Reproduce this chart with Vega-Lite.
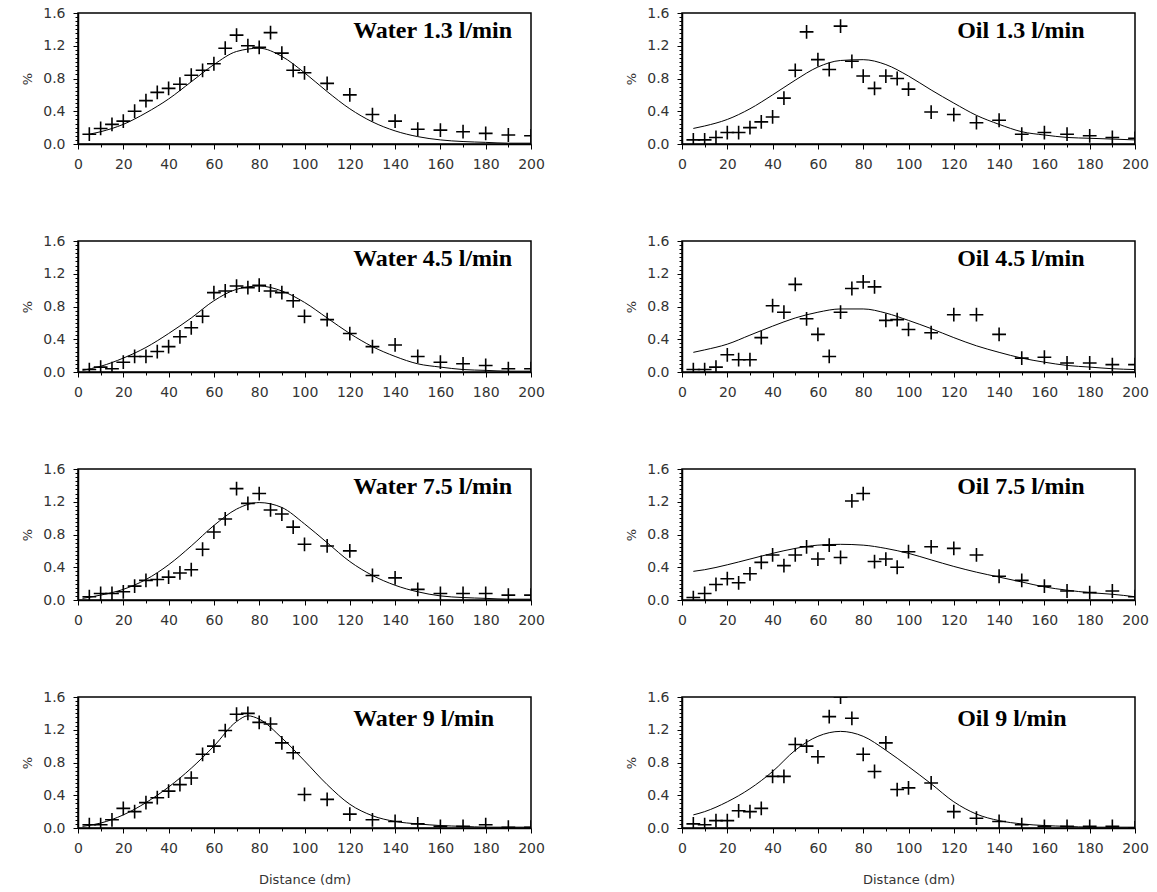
{
  "$schema": "https://vega.github.io/schema/vega-lite/v6.json",
  "padding": {"left": 20, "top": 5, "right": 5, "bottom": 5},
  "background": "white",
  "datasets": {
    "titles": [
      {"p": "W13", "t": "Water 1.3 l/min"}, {"p": "O13", "t": "Oil 1.3 l/min"},
      {"p": "W45", "t": "Water 4.5 l/min"}, {"p": "O45", "t": "Oil 4.5 l/min"},
      {"p": "W75", "t": "Water 7.5 l/min"}, {"p": "O75", "t": "Oil 7.5 l/min"},
      {"p": "W9", "t": "Water 9 l/min"}, {"p": "O9", "t": "Oil 9 l/min"}
    ],
    "fit": [
      {"p":"W13","x":5,"y":0.12},{"p":"W13","x":10,"y":0.15},{"p":"W13","x":20,"y":0.24},{"p":"W13","x":30,"y":0.38},{"p":"W13","x":40,"y":0.55},{"p":"W13","x":50,"y":0.76},{"p":"W13","x":60,"y":0.97},{"p":"W13","x":70,"y":1.13},{"p":"W13","x":80,"y":1.17},{"p":"W13","x":90,"y":1.07},{"p":"W13","x":100,"y":0.87},{"p":"W13","x":110,"y":0.64},{"p":"W13","x":120,"y":0.43},{"p":"W13","x":130,"y":0.27},{"p":"W13","x":140,"y":0.16},{"p":"W13","x":150,"y":0.09},{"p":"W13","x":160,"y":0.05},{"p":"W13","x":170,"y":0.03},{"p":"W13","x":180,"y":0.02},{"p":"W13","x":190,"y":0.01},{"p":"W13","x":200,"y":0.01},
      {"p":"W45","x":2,"y":0.02},{"p":"W45","x":10,"y":0.07},{"p":"W45","x":20,"y":0.17},{"p":"W45","x":30,"y":0.3},{"p":"W45","x":40,"y":0.47},{"p":"W45","x":50,"y":0.66},{"p":"W45","x":60,"y":0.87},{"p":"W45","x":70,"y":1.01},{"p":"W45","x":80,"y":1.05},{"p":"W45","x":90,"y":0.99},{"p":"W45","x":100,"y":0.85},{"p":"W45","x":110,"y":0.66},{"p":"W45","x":120,"y":0.47},{"p":"W45","x":130,"y":0.31},{"p":"W45","x":140,"y":0.19},{"p":"W45","x":150,"y":0.1},{"p":"W45","x":160,"y":0.06},{"p":"W45","x":170,"y":0.03},{"p":"W45","x":180,"y":0.02},{"p":"W45","x":190,"y":0.01},{"p":"W45","x":200,"y":0.01},
      {"p":"W75","x":2,"y":0.02},{"p":"W75","x":10,"y":0.06},{"p":"W75","x":20,"y":0.13},{"p":"W75","x":30,"y":0.25},{"p":"W75","x":40,"y":0.43},{"p":"W75","x":50,"y":0.66},{"p":"W75","x":60,"y":0.91},{"p":"W75","x":70,"y":1.11},{"p":"W75","x":80,"y":1.19},{"p":"W75","x":90,"y":1.13},{"p":"W75","x":100,"y":0.93},{"p":"W75","x":110,"y":0.7},{"p":"W75","x":120,"y":0.47},{"p":"W75","x":130,"y":0.3},{"p":"W75","x":140,"y":0.18},{"p":"W75","x":150,"y":0.1},{"p":"W75","x":160,"y":0.05},{"p":"W75","x":170,"y":0.03},{"p":"W75","x":180,"y":0.02},{"p":"W75","x":190,"y":0.01},{"p":"W75","x":200,"y":0.01},
      {"p":"W9","x":2,"y":0.02},{"p":"W9","x":10,"y":0.06},{"p":"W9","x":20,"y":0.16},{"p":"W9","x":30,"y":0.31},{"p":"W9","x":40,"y":0.5},{"p":"W9","x":50,"y":0.73},{"p":"W9","x":60,"y":1.0},{"p":"W9","x":70,"y":1.3},{"p":"W9","x":75,"y":1.37},{"p":"W9","x":80,"y":1.33},{"p":"W9","x":90,"y":1.1},{"p":"W9","x":100,"y":0.82},{"p":"W9","x":110,"y":0.53},{"p":"W9","x":120,"y":0.29},{"p":"W9","x":130,"y":0.15},{"p":"W9","x":140,"y":0.08},{"p":"W9","x":150,"y":0.05},{"p":"W9","x":160,"y":0.03},{"p":"W9","x":170,"y":0.02},{"p":"W9","x":180,"y":0.01},{"p":"W9","x":190,"y":0.01},{"p":"W9","x":200,"y":0.01},
      {"p":"O13","x":5,"y":0.19},{"p":"O13","x":10,"y":0.22},{"p":"O13","x":20,"y":0.3},{"p":"O13","x":30,"y":0.43},{"p":"O13","x":40,"y":0.6},{"p":"O13","x":50,"y":0.78},{"p":"O13","x":60,"y":0.94},{"p":"O13","x":70,"y":1.02},{"p":"O13","x":80,"y":1.03},{"p":"O13","x":90,"y":0.97},{"p":"O13","x":100,"y":0.83},{"p":"O13","x":110,"y":0.66},{"p":"O13","x":120,"y":0.5},{"p":"O13","x":130,"y":0.35},{"p":"O13","x":140,"y":0.24},{"p":"O13","x":150,"y":0.15},{"p":"O13","x":160,"y":0.11},{"p":"O13","x":170,"y":0.08},{"p":"O13","x":180,"y":0.07},{"p":"O13","x":190,"y":0.06},{"p":"O13","x":200,"y":0.05},
      {"p":"O45","x":5,"y":0.24},{"p":"O45","x":10,"y":0.27},{"p":"O45","x":20,"y":0.34},{"p":"O45","x":30,"y":0.45},{"p":"O45","x":40,"y":0.56},{"p":"O45","x":50,"y":0.66},{"p":"O45","x":60,"y":0.73},{"p":"O45","x":70,"y":0.77},{"p":"O45","x":80,"y":0.77},{"p":"O45","x":90,"y":0.72},{"p":"O45","x":100,"y":0.63},{"p":"O45","x":110,"y":0.53},{"p":"O45","x":120,"y":0.42},{"p":"O45","x":130,"y":0.32},{"p":"O45","x":140,"y":0.24},{"p":"O45","x":150,"y":0.17},{"p":"O45","x":160,"y":0.12},{"p":"O45","x":170,"y":0.08},{"p":"O45","x":180,"y":0.06},{"p":"O45","x":190,"y":0.04},{"p":"O45","x":200,"y":0.03},
      {"p":"O75","x":5,"y":0.35},{"p":"O75","x":10,"y":0.37},{"p":"O75","x":20,"y":0.43},{"p":"O75","x":30,"y":0.5},{"p":"O75","x":40,"y":0.57},{"p":"O75","x":50,"y":0.63},{"p":"O75","x":60,"y":0.67},{"p":"O75","x":70,"y":0.68},{"p":"O75","x":80,"y":0.67},{"p":"O75","x":90,"y":0.63},{"p":"O75","x":100,"y":0.57},{"p":"O75","x":110,"y":0.49},{"p":"O75","x":120,"y":0.41},{"p":"O75","x":130,"y":0.34},{"p":"O75","x":140,"y":0.28},{"p":"O75","x":150,"y":0.22},{"p":"O75","x":160,"y":0.16},{"p":"O75","x":170,"y":0.12},{"p":"O75","x":180,"y":0.09},{"p":"O75","x":190,"y":0.07},{"p":"O75","x":200,"y":0.04},
      {"p":"O9","x":5,"y":0.16},{"p":"O9","x":10,"y":0.2},{"p":"O9","x":20,"y":0.32},{"p":"O9","x":30,"y":0.48},{"p":"O9","x":40,"y":0.69},{"p":"O9","x":50,"y":0.95},{"p":"O9","x":60,"y":1.12},{"p":"O9","x":70,"y":1.18},{"p":"O9","x":80,"y":1.12},{"p":"O9","x":90,"y":0.95},{"p":"O9","x":100,"y":0.75},{"p":"O9","x":110,"y":0.54},{"p":"O9","x":120,"y":0.32},{"p":"O9","x":130,"y":0.17},{"p":"O9","x":140,"y":0.09},{"p":"O9","x":150,"y":0.05},{"p":"O9","x":160,"y":0.03},{"p":"O9","x":170,"y":0.02},{"p":"O9","x":180,"y":0.01},{"p":"O9","x":190,"y":0.01},{"p":"O9","x":200,"y":0.01}
    ],
    "pts": [
      {"p":"W13","x":5,"y":0.12},{"p":"W13","x":10,"y":0.19},{"p":"W13","x":15,"y":0.24},{"p":"W13","x":20,"y":0.28},{"p":"W13","x":25,"y":0.4},{"p":"W13","x":30,"y":0.53},{"p":"W13","x":35,"y":0.63},{"p":"W13","x":40,"y":0.68},{"p":"W13","x":45,"y":0.73},{"p":"W13","x":50,"y":0.84},{"p":"W13","x":55,"y":0.9},{"p":"W13","x":60,"y":0.98},{"p":"W13","x":65,"y":1.17},{"p":"W13","x":70,"y":1.33},{"p":"W13","x":75,"y":1.2},{"p":"W13","x":80,"y":1.18},{"p":"W13","x":85,"y":1.36},{"p":"W13","x":90,"y":1.11},{"p":"W13","x":95,"y":0.9},{"p":"W13","x":100,"y":0.87},{"p":"W13","x":110,"y":0.74},{"p":"W13","x":120,"y":0.6},{"p":"W13","x":130,"y":0.36},{"p":"W13","x":140,"y":0.28},{"p":"W13","x":150,"y":0.18},{"p":"W13","x":160,"y":0.17},{"p":"W13","x":170,"y":0.15},{"p":"W13","x":180,"y":0.13},{"p":"W13","x":190,"y":0.11},{"p":"W13","x":200,"y":0.1},
      {"p":"O13","x":5,"y":0.05},{"p":"O13","x":10,"y":0.05},{"p":"O13","x":15,"y":0.08},{"p":"O13","x":20,"y":0.14},{"p":"O13","x":25,"y":0.14},{"p":"O13","x":30,"y":0.2},{"p":"O13","x":35,"y":0.27},{"p":"O13","x":40,"y":0.33},{"p":"O13","x":45,"y":0.56},{"p":"O13","x":50,"y":0.9},{"p":"O13","x":55,"y":1.37},{"p":"O13","x":60,"y":1.03},{"p":"O13","x":65,"y":0.91},{"p":"O13","x":70,"y":1.44},{"p":"O13","x":75,"y":1.01},{"p":"O13","x":80,"y":0.83},{"p":"O13","x":85,"y":0.68},{"p":"O13","x":90,"y":0.83},{"p":"O13","x":95,"y":0.8},{"p":"O13","x":100,"y":0.67},{"p":"O13","x":110,"y":0.39},{"p":"O13","x":120,"y":0.36},{"p":"O13","x":130,"y":0.26},{"p":"O13","x":140,"y":0.29},{"p":"O13","x":150,"y":0.12},{"p":"O13","x":160,"y":0.14},{"p":"O13","x":170,"y":0.12},{"p":"O13","x":180,"y":0.1},{"p":"O13","x":190,"y":0.08},{"p":"O13","x":200,"y":0.07},
      {"p":"W45","x":5,"y":0.03},{"p":"W45","x":10,"y":0.06},{"p":"W45","x":15,"y":0.04},{"p":"W45","x":20,"y":0.12},{"p":"W45","x":25,"y":0.19},{"p":"W45","x":30,"y":0.19},{"p":"W45","x":35,"y":0.25},{"p":"W45","x":40,"y":0.31},{"p":"W45","x":45,"y":0.43},{"p":"W45","x":50,"y":0.54},{"p":"W45","x":55,"y":0.68},{"p":"W45","x":60,"y":0.97},{"p":"W45","x":65,"y":0.99},{"p":"W45","x":70,"y":1.05},{"p":"W45","x":75,"y":1.03},{"p":"W45","x":80,"y":1.06},{"p":"W45","x":85,"y":0.99},{"p":"W45","x":90,"y":0.97},{"p":"W45","x":95,"y":0.87},{"p":"W45","x":100,"y":0.68},{"p":"W45","x":110,"y":0.64},{"p":"W45","x":120,"y":0.47},{"p":"W45","x":130,"y":0.31},{"p":"W45","x":140,"y":0.33},{"p":"W45","x":150,"y":0.19},{"p":"W45","x":160,"y":0.12},{"p":"W45","x":170,"y":0.1},{"p":"W45","x":180,"y":0.08},{"p":"W45","x":190,"y":0.04},{"p":"W45","x":200,"y":0.04},
      {"p":"O45","x":5,"y":0.03},{"p":"O45","x":10,"y":0.03},{"p":"O45","x":15,"y":0.06},{"p":"O45","x":20,"y":0.21},{"p":"O45","x":25,"y":0.15},{"p":"O45","x":30,"y":0.15},{"p":"O45","x":35,"y":0.42},{"p":"O45","x":40,"y":0.81},{"p":"O45","x":45,"y":0.73},{"p":"O45","x":50,"y":1.07},{"p":"O45","x":55,"y":0.65},{"p":"O45","x":60,"y":0.46},{"p":"O45","x":65,"y":0.19},{"p":"O45","x":70,"y":0.73},{"p":"O45","x":75,"y":1.02},{"p":"O45","x":80,"y":1.1},{"p":"O45","x":85,"y":1.04},{"p":"O45","x":90,"y":0.63},{"p":"O45","x":95,"y":0.64},{"p":"O45","x":100,"y":0.52},{"p":"O45","x":110,"y":0.48},{"p":"O45","x":120,"y":0.7},{"p":"O45","x":130,"y":0.7},{"p":"O45","x":140,"y":0.46},{"p":"O45","x":150,"y":0.17},{"p":"O45","x":160,"y":0.18},{"p":"O45","x":170,"y":0.11},{"p":"O45","x":180,"y":0.11},{"p":"O45","x":190,"y":0.09},{"p":"O45","x":200,"y":0.09},
      {"p":"W75","x":5,"y":0.04},{"p":"W75","x":10,"y":0.08},{"p":"W75","x":15,"y":0.08},{"p":"W75","x":20,"y":0.1},{"p":"W75","x":25,"y":0.17},{"p":"W75","x":30,"y":0.24},{"p":"W75","x":35,"y":0.25},{"p":"W75","x":40,"y":0.28},{"p":"W75","x":45,"y":0.33},{"p":"W75","x":50,"y":0.37},{"p":"W75","x":55,"y":0.62},{"p":"W75","x":60,"y":0.83},{"p":"W75","x":65,"y":0.99},{"p":"W75","x":70,"y":1.36},{"p":"W75","x":75,"y":1.18},{"p":"W75","x":80,"y":1.3},{"p":"W75","x":85,"y":1.1},{"p":"W75","x":90,"y":1.05},{"p":"W75","x":95,"y":0.89},{"p":"W75","x":100,"y":0.68},{"p":"W75","x":110,"y":0.66},{"p":"W75","x":120,"y":0.6},{"p":"W75","x":130,"y":0.3},{"p":"W75","x":140,"y":0.27},{"p":"W75","x":150,"y":0.13},{"p":"W75","x":160,"y":0.08},{"p":"W75","x":170,"y":0.08},{"p":"W75","x":180,"y":0.08},{"p":"W75","x":190,"y":0.06},{"p":"W75","x":200,"y":0.06},
      {"p":"O75","x":5,"y":0.03},{"p":"O75","x":10,"y":0.08},{"p":"O75","x":15,"y":0.19},{"p":"O75","x":20,"y":0.26},{"p":"O75","x":25,"y":0.21},{"p":"O75","x":30,"y":0.32},{"p":"O75","x":35,"y":0.46},{"p":"O75","x":40,"y":0.55},{"p":"O75","x":45,"y":0.42},{"p":"O75","x":50,"y":0.55},{"p":"O75","x":55,"y":0.65},{"p":"O75","x":60,"y":0.5},{"p":"O75","x":65,"y":0.67},{"p":"O75","x":70,"y":0.52},{"p":"O75","x":75,"y":1.21},{"p":"O75","x":80,"y":1.3},{"p":"O75","x":85,"y":0.47},{"p":"O75","x":90,"y":0.5},{"p":"O75","x":95,"y":0.4},{"p":"O75","x":100,"y":0.59},{"p":"O75","x":110,"y":0.65},{"p":"O75","x":120,"y":0.63},{"p":"O75","x":130,"y":0.55},{"p":"O75","x":140,"y":0.29},{"p":"O75","x":150,"y":0.24},{"p":"O75","x":160,"y":0.17},{"p":"O75","x":170,"y":0.11},{"p":"O75","x":180,"y":0.09},{"p":"O75","x":190,"y":0.11},{"p":"O75","x":200,"y":0.04},
      {"p":"W9","x":5,"y":0.04},{"p":"W9","x":10,"y":0.04},{"p":"W9","x":15,"y":0.1},{"p":"W9","x":20,"y":0.24},{"p":"W9","x":25,"y":0.2},{"p":"W9","x":30,"y":0.31},{"p":"W9","x":35,"y":0.37},{"p":"W9","x":40,"y":0.45},{"p":"W9","x":45,"y":0.53},{"p":"W9","x":50,"y":0.61},{"p":"W9","x":55,"y":0.9},{"p":"W9","x":60,"y":1.0},{"p":"W9","x":65,"y":1.19},{"p":"W9","x":70,"y":1.39},{"p":"W9","x":75,"y":1.4},{"p":"W9","x":80,"y":1.29},{"p":"W9","x":85,"y":1.27},{"p":"W9","x":90,"y":1.04},{"p":"W9","x":95,"y":0.92},{"p":"W9","x":100,"y":0.41},{"p":"W9","x":110,"y":0.35},{"p":"W9","x":120,"y":0.17},{"p":"W9","x":130,"y":0.1},{"p":"W9","x":140,"y":0.08},{"p":"W9","x":150,"y":0.05},{"p":"W9","x":160,"y":0.02},{"p":"W9","x":170,"y":0.02},{"p":"W9","x":180,"y":0.04},{"p":"W9","x":190,"y":0.01},{"p":"W9","x":200,"y":0.01},
      {"p":"O9","x":5,"y":0.05},{"p":"O9","x":10,"y":0.04},{"p":"O9","x":15,"y":0.09},{"p":"O9","x":20,"y":0.09},{"p":"O9","x":25,"y":0.21},{"p":"O9","x":30,"y":0.2},{"p":"O9","x":35,"y":0.24},{"p":"O9","x":40,"y":0.63},{"p":"O9","x":45,"y":0.63},{"p":"O9","x":50,"y":1.02},{"p":"O9","x":55,"y":1.0},{"p":"O9","x":60,"y":0.87},{"p":"O9","x":65,"y":1.36},{"p":"O9","x":70,"y":1.6},{"p":"O9","x":75,"y":1.34},{"p":"O9","x":80,"y":0.9},{"p":"O9","x":85,"y":0.69},{"p":"O9","x":90,"y":1.04},{"p":"O9","x":95,"y":0.47},{"p":"O9","x":100,"y":0.49},{"p":"O9","x":110,"y":0.55},{"p":"O9","x":120,"y":0.2},{"p":"O9","x":130,"y":0.12},{"p":"O9","x":140,"y":0.08},{"p":"O9","x":150,"y":0.04},{"p":"O9","x":160,"y":0.02},{"p":"O9","x":170,"y":0.02},{"p":"O9","x":180,"y":0.02},{"p":"O9","x":190,"y":0.02},{"p":"O9","x":200,"y":0.0}
    ]
  },
  "columns": 2,
  "bounds": "flush",
  "spacing": {"row": 97, "column": 151},
  "concat": [
    {"width": 453, "height": 131, "layer": [
      {"data": {"name": "fit"}, "transform": [{"filter": "datum.p === 'W13'"}], "mark": {"type": "line", "color": "black", "strokeWidth": 1, "interpolate": "monotone", "clip": true},
       "encoding": {"x": {"field": "x", "type": "quantitative", "scale": {"domain": [0, 200], "nice": false, "zero": false}, "axis": {"title": null, "tickCount": 20, "labelExpr": "datum.value % 20 === 0 ? datum.label : ''", "tickSize": {"condition": {"test": "datum.value % 20 === 0", "value": 5}, "value": 3}}},
                    "y": {"field": "y", "type": "quantitative", "scale": {"domain": [0, 1.6], "nice": false}, "axis": {"title": "%", "tickCount": 32, "format": ".1f", "labelExpr": "abs(datum.value/0.4 - round(datum.value/0.4)) < 0.01 ? datum.label : ''", "tickSize": {"condition": {"test": "abs(datum.value/0.4 - round(datum.value/0.4)) < 0.01", "value": 5}, "value": 3}}}}},
      {"data": {"name": "pts"}, "transform": [{"filter": "datum.p === 'W13'"}], "mark": {"type": "point", "shape": "M-1,0H1M0,-1V1", "size": 190, "stroke": "black", "strokeWidth": 1.6, "filled": false, "opacity": 1, "clip": true},
       "encoding": {"x": {"field": "x", "type": "quantitative", "scale": {"domain": [0, 200], "nice": false, "zero": false}, "axis": {"title": null, "tickCount": 20, "labelExpr": "datum.value % 20 === 0 ? datum.label : ''", "tickSize": {"condition": {"test": "datum.value % 20 === 0", "value": 5}, "value": 3}}},
                    "y": {"field": "y", "type": "quantitative", "scale": {"domain": [0, 1.6], "nice": false}, "axis": {"title": "%", "tickCount": 32, "format": ".1f", "labelExpr": "abs(datum.value/0.4 - round(datum.value/0.4)) < 0.01 ? datum.label : ''", "tickSize": {"condition": {"test": "abs(datum.value/0.4 - round(datum.value/0.4)) < 0.01", "value": 5}, "value": 3}}}}},
      {"data": {"name": "titles"}, "transform": [{"filter": "datum.p === 'W13'"}], "mark": {"type": "text", "font": "Liberation Serif", "fontWeight": "bold", "fontSize": 24, "align": "left", "baseline": "alphabetic", "color": "black"},
       "encoding": {"x": {"datum": 121.5, "type": "quantitative"}, "y": {"datum": 1.3, "type": "quantitative"}, "text": {"field": "t"}}}
    ]},
    {"width": 453, "height": 131, "layer": [
      {"data": {"name": "fit"}, "transform": [{"filter": "datum.p === 'O13'"}], "mark": {"type": "line", "color": "black", "strokeWidth": 1, "interpolate": "monotone", "clip": true},
       "encoding": {"x": {"field": "x", "type": "quantitative", "scale": {"domain": [0, 200], "nice": false, "zero": false}, "axis": {"title": null, "tickCount": 20, "labelExpr": "datum.value % 20 === 0 ? datum.label : ''", "tickSize": {"condition": {"test": "datum.value % 20 === 0", "value": 5}, "value": 3}}},
                    "y": {"field": "y", "type": "quantitative", "scale": {"domain": [0, 1.6], "nice": false}, "axis": {"title": "%", "tickCount": 32, "format": ".1f", "labelExpr": "abs(datum.value/0.4 - round(datum.value/0.4)) < 0.01 ? datum.label : ''", "tickSize": {"condition": {"test": "abs(datum.value/0.4 - round(datum.value/0.4)) < 0.01", "value": 5}, "value": 3}}}}},
      {"data": {"name": "pts"}, "transform": [{"filter": "datum.p === 'O13'"}], "mark": {"type": "point", "shape": "M-1,0H1M0,-1V1", "size": 190, "stroke": "black", "strokeWidth": 1.6, "filled": false, "opacity": 1, "clip": true},
       "encoding": {"x": {"field": "x", "type": "quantitative", "scale": {"domain": [0, 200], "nice": false, "zero": false}, "axis": {"title": null, "tickCount": 20, "labelExpr": "datum.value % 20 === 0 ? datum.label : ''", "tickSize": {"condition": {"test": "datum.value % 20 === 0", "value": 5}, "value": 3}}},
                    "y": {"field": "y", "type": "quantitative", "scale": {"domain": [0, 1.6], "nice": false}, "axis": {"title": "%", "tickCount": 32, "format": ".1f", "labelExpr": "abs(datum.value/0.4 - round(datum.value/0.4)) < 0.01 ? datum.label : ''", "tickSize": {"condition": {"test": "abs(datum.value/0.4 - round(datum.value/0.4)) < 0.01", "value": 5}, "value": 3}}}}},
      {"data": {"name": "titles"}, "transform": [{"filter": "datum.p === 'O13'"}], "mark": {"type": "text", "font": "Liberation Serif", "fontWeight": "bold", "fontSize": 24, "align": "left", "baseline": "alphabetic", "color": "black"},
       "encoding": {"x": {"datum": 121.5, "type": "quantitative"}, "y": {"datum": 1.3, "type": "quantitative"}, "text": {"field": "t"}}}
    ]},
    {"width": 453, "height": 131, "layer": [
      {"data": {"name": "fit"}, "transform": [{"filter": "datum.p === 'W45'"}], "mark": {"type": "line", "color": "black", "strokeWidth": 1, "interpolate": "monotone", "clip": true},
       "encoding": {"x": {"field": "x", "type": "quantitative", "scale": {"domain": [0, 200], "nice": false, "zero": false}, "axis": {"title": null, "tickCount": 20, "labelExpr": "datum.value % 20 === 0 ? datum.label : ''", "tickSize": {"condition": {"test": "datum.value % 20 === 0", "value": 5}, "value": 3}}},
                    "y": {"field": "y", "type": "quantitative", "scale": {"domain": [0, 1.6], "nice": false}, "axis": {"title": "%", "tickCount": 32, "format": ".1f", "labelExpr": "abs(datum.value/0.4 - round(datum.value/0.4)) < 0.01 ? datum.label : ''", "tickSize": {"condition": {"test": "abs(datum.value/0.4 - round(datum.value/0.4)) < 0.01", "value": 5}, "value": 3}}}}},
      {"data": {"name": "pts"}, "transform": [{"filter": "datum.p === 'W45'"}], "mark": {"type": "point", "shape": "M-1,0H1M0,-1V1", "size": 190, "stroke": "black", "strokeWidth": 1.6, "filled": false, "opacity": 1, "clip": true},
       "encoding": {"x": {"field": "x", "type": "quantitative", "scale": {"domain": [0, 200], "nice": false, "zero": false}, "axis": {"title": null, "tickCount": 20, "labelExpr": "datum.value % 20 === 0 ? datum.label : ''", "tickSize": {"condition": {"test": "datum.value % 20 === 0", "value": 5}, "value": 3}}},
                    "y": {"field": "y", "type": "quantitative", "scale": {"domain": [0, 1.6], "nice": false}, "axis": {"title": "%", "tickCount": 32, "format": ".1f", "labelExpr": "abs(datum.value/0.4 - round(datum.value/0.4)) < 0.01 ? datum.label : ''", "tickSize": {"condition": {"test": "abs(datum.value/0.4 - round(datum.value/0.4)) < 0.01", "value": 5}, "value": 3}}}}},
      {"data": {"name": "titles"}, "transform": [{"filter": "datum.p === 'W45'"}], "mark": {"type": "text", "font": "Liberation Serif", "fontWeight": "bold", "fontSize": 24, "align": "left", "baseline": "alphabetic", "color": "black"},
       "encoding": {"x": {"datum": 121.5, "type": "quantitative"}, "y": {"datum": 1.3, "type": "quantitative"}, "text": {"field": "t"}}}
    ]},
    {"width": 453, "height": 131, "layer": [
      {"data": {"name": "fit"}, "transform": [{"filter": "datum.p === 'O45'"}], "mark": {"type": "line", "color": "black", "strokeWidth": 1, "interpolate": "monotone", "clip": true},
       "encoding": {"x": {"field": "x", "type": "quantitative", "scale": {"domain": [0, 200], "nice": false, "zero": false}, "axis": {"title": null, "tickCount": 20, "labelExpr": "datum.value % 20 === 0 ? datum.label : ''", "tickSize": {"condition": {"test": "datum.value % 20 === 0", "value": 5}, "value": 3}}},
                    "y": {"field": "y", "type": "quantitative", "scale": {"domain": [0, 1.6], "nice": false}, "axis": {"title": "%", "tickCount": 32, "format": ".1f", "labelExpr": "abs(datum.value/0.4 - round(datum.value/0.4)) < 0.01 ? datum.label : ''", "tickSize": {"condition": {"test": "abs(datum.value/0.4 - round(datum.value/0.4)) < 0.01", "value": 5}, "value": 3}}}}},
      {"data": {"name": "pts"}, "transform": [{"filter": "datum.p === 'O45'"}], "mark": {"type": "point", "shape": "M-1,0H1M0,-1V1", "size": 190, "stroke": "black", "strokeWidth": 1.6, "filled": false, "opacity": 1, "clip": true},
       "encoding": {"x": {"field": "x", "type": "quantitative", "scale": {"domain": [0, 200], "nice": false, "zero": false}, "axis": {"title": null, "tickCount": 20, "labelExpr": "datum.value % 20 === 0 ? datum.label : ''", "tickSize": {"condition": {"test": "datum.value % 20 === 0", "value": 5}, "value": 3}}},
                    "y": {"field": "y", "type": "quantitative", "scale": {"domain": [0, 1.6], "nice": false}, "axis": {"title": "%", "tickCount": 32, "format": ".1f", "labelExpr": "abs(datum.value/0.4 - round(datum.value/0.4)) < 0.01 ? datum.label : ''", "tickSize": {"condition": {"test": "abs(datum.value/0.4 - round(datum.value/0.4)) < 0.01", "value": 5}, "value": 3}}}}},
      {"data": {"name": "titles"}, "transform": [{"filter": "datum.p === 'O45'"}], "mark": {"type": "text", "font": "Liberation Serif", "fontWeight": "bold", "fontSize": 24, "align": "left", "baseline": "alphabetic", "color": "black"},
       "encoding": {"x": {"datum": 121.5, "type": "quantitative"}, "y": {"datum": 1.3, "type": "quantitative"}, "text": {"field": "t"}}}
    ]},
    {"width": 453, "height": 131, "layer": [
      {"data": {"name": "fit"}, "transform": [{"filter": "datum.p === 'W75'"}], "mark": {"type": "line", "color": "black", "strokeWidth": 1, "interpolate": "monotone", "clip": true},
       "encoding": {"x": {"field": "x", "type": "quantitative", "scale": {"domain": [0, 200], "nice": false, "zero": false}, "axis": {"title": null, "tickCount": 20, "labelExpr": "datum.value % 20 === 0 ? datum.label : ''", "tickSize": {"condition": {"test": "datum.value % 20 === 0", "value": 5}, "value": 3}}},
                    "y": {"field": "y", "type": "quantitative", "scale": {"domain": [0, 1.6], "nice": false}, "axis": {"title": "%", "tickCount": 32, "format": ".1f", "labelExpr": "abs(datum.value/0.4 - round(datum.value/0.4)) < 0.01 ? datum.label : ''", "tickSize": {"condition": {"test": "abs(datum.value/0.4 - round(datum.value/0.4)) < 0.01", "value": 5}, "value": 3}}}}},
      {"data": {"name": "pts"}, "transform": [{"filter": "datum.p === 'W75'"}], "mark": {"type": "point", "shape": "M-1,0H1M0,-1V1", "size": 190, "stroke": "black", "strokeWidth": 1.6, "filled": false, "opacity": 1, "clip": true},
       "encoding": {"x": {"field": "x", "type": "quantitative", "scale": {"domain": [0, 200], "nice": false, "zero": false}, "axis": {"title": null, "tickCount": 20, "labelExpr": "datum.value % 20 === 0 ? datum.label : ''", "tickSize": {"condition": {"test": "datum.value % 20 === 0", "value": 5}, "value": 3}}},
                    "y": {"field": "y", "type": "quantitative", "scale": {"domain": [0, 1.6], "nice": false}, "axis": {"title": "%", "tickCount": 32, "format": ".1f", "labelExpr": "abs(datum.value/0.4 - round(datum.value/0.4)) < 0.01 ? datum.label : ''", "tickSize": {"condition": {"test": "abs(datum.value/0.4 - round(datum.value/0.4)) < 0.01", "value": 5}, "value": 3}}}}},
      {"data": {"name": "titles"}, "transform": [{"filter": "datum.p === 'W75'"}], "mark": {"type": "text", "font": "Liberation Serif", "fontWeight": "bold", "fontSize": 24, "align": "left", "baseline": "alphabetic", "color": "black"},
       "encoding": {"x": {"datum": 121.5, "type": "quantitative"}, "y": {"datum": 1.3, "type": "quantitative"}, "text": {"field": "t"}}}
    ]},
    {"width": 453, "height": 131, "layer": [
      {"data": {"name": "fit"}, "transform": [{"filter": "datum.p === 'O75'"}], "mark": {"type": "line", "color": "black", "strokeWidth": 1, "interpolate": "monotone", "clip": true},
       "encoding": {"x": {"field": "x", "type": "quantitative", "scale": {"domain": [0, 200], "nice": false, "zero": false}, "axis": {"title": null, "tickCount": 20, "labelExpr": "datum.value % 20 === 0 ? datum.label : ''", "tickSize": {"condition": {"test": "datum.value % 20 === 0", "value": 5}, "value": 3}}},
                    "y": {"field": "y", "type": "quantitative", "scale": {"domain": [0, 1.6], "nice": false}, "axis": {"title": "%", "tickCount": 32, "format": ".1f", "labelExpr": "abs(datum.value/0.4 - round(datum.value/0.4)) < 0.01 ? datum.label : ''", "tickSize": {"condition": {"test": "abs(datum.value/0.4 - round(datum.value/0.4)) < 0.01", "value": 5}, "value": 3}}}}},
      {"data": {"name": "pts"}, "transform": [{"filter": "datum.p === 'O75'"}], "mark": {"type": "point", "shape": "M-1,0H1M0,-1V1", "size": 190, "stroke": "black", "strokeWidth": 1.6, "filled": false, "opacity": 1, "clip": true},
       "encoding": {"x": {"field": "x", "type": "quantitative", "scale": {"domain": [0, 200], "nice": false, "zero": false}, "axis": {"title": null, "tickCount": 20, "labelExpr": "datum.value % 20 === 0 ? datum.label : ''", "tickSize": {"condition": {"test": "datum.value % 20 === 0", "value": 5}, "value": 3}}},
                    "y": {"field": "y", "type": "quantitative", "scale": {"domain": [0, 1.6], "nice": false}, "axis": {"title": "%", "tickCount": 32, "format": ".1f", "labelExpr": "abs(datum.value/0.4 - round(datum.value/0.4)) < 0.01 ? datum.label : ''", "tickSize": {"condition": {"test": "abs(datum.value/0.4 - round(datum.value/0.4)) < 0.01", "value": 5}, "value": 3}}}}},
      {"data": {"name": "titles"}, "transform": [{"filter": "datum.p === 'O75'"}], "mark": {"type": "text", "font": "Liberation Serif", "fontWeight": "bold", "fontSize": 24, "align": "left", "baseline": "alphabetic", "color": "black"},
       "encoding": {"x": {"datum": 121.5, "type": "quantitative"}, "y": {"datum": 1.3, "type": "quantitative"}, "text": {"field": "t"}}}
    ]},
    {"width": 453, "height": 131, "layer": [
      {"data": {"name": "fit"}, "transform": [{"filter": "datum.p === 'W9'"}], "mark": {"type": "line", "color": "black", "strokeWidth": 1, "interpolate": "monotone", "clip": true},
       "encoding": {"x": {"field": "x", "type": "quantitative", "scale": {"domain": [0, 200], "nice": false, "zero": false}, "axis": {"title": "Distance (dm)", "tickCount": 20, "labelExpr": "datum.value % 20 === 0 ? datum.label : ''", "tickSize": {"condition": {"test": "datum.value % 20 === 0", "value": 5}, "value": 3}}},
                    "y": {"field": "y", "type": "quantitative", "scale": {"domain": [0, 1.6], "nice": false}, "axis": {"title": "%", "tickCount": 32, "format": ".1f", "labelExpr": "abs(datum.value/0.4 - round(datum.value/0.4)) < 0.01 ? datum.label : ''", "tickSize": {"condition": {"test": "abs(datum.value/0.4 - round(datum.value/0.4)) < 0.01", "value": 5}, "value": 3}}}}},
      {"data": {"name": "pts"}, "transform": [{"filter": "datum.p === 'W9'"}], "mark": {"type": "point", "shape": "M-1,0H1M0,-1V1", "size": 190, "stroke": "black", "strokeWidth": 1.6, "filled": false, "opacity": 1, "clip": true},
       "encoding": {"x": {"field": "x", "type": "quantitative", "scale": {"domain": [0, 200], "nice": false, "zero": false}, "axis": {"title": "Distance (dm)", "tickCount": 20, "labelExpr": "datum.value % 20 === 0 ? datum.label : ''", "tickSize": {"condition": {"test": "datum.value % 20 === 0", "value": 5}, "value": 3}}},
                    "y": {"field": "y", "type": "quantitative", "scale": {"domain": [0, 1.6], "nice": false}, "axis": {"title": "%", "tickCount": 32, "format": ".1f", "labelExpr": "abs(datum.value/0.4 - round(datum.value/0.4)) < 0.01 ? datum.label : ''", "tickSize": {"condition": {"test": "abs(datum.value/0.4 - round(datum.value/0.4)) < 0.01", "value": 5}, "value": 3}}}}},
      {"data": {"name": "titles"}, "transform": [{"filter": "datum.p === 'W9'"}], "mark": {"type": "text", "font": "Liberation Serif", "fontWeight": "bold", "fontSize": 24, "align": "left", "baseline": "alphabetic", "color": "black"},
       "encoding": {"x": {"datum": 121.5, "type": "quantitative"}, "y": {"datum": 1.25, "type": "quantitative"}, "text": {"field": "t"}}}
    ]},
    {"width": 453, "height": 131, "layer": [
      {"data": {"name": "fit"}, "transform": [{"filter": "datum.p === 'O9'"}], "mark": {"type": "line", "color": "black", "strokeWidth": 1, "interpolate": "monotone", "clip": true},
       "encoding": {"x": {"field": "x", "type": "quantitative", "scale": {"domain": [0, 200], "nice": false, "zero": false}, "axis": {"title": "Distance (dm)", "tickCount": 20, "labelExpr": "datum.value % 20 === 0 ? datum.label : ''", "tickSize": {"condition": {"test": "datum.value % 20 === 0", "value": 5}, "value": 3}}},
                    "y": {"field": "y", "type": "quantitative", "scale": {"domain": [0, 1.6], "nice": false}, "axis": {"title": "%", "tickCount": 32, "format": ".1f", "labelExpr": "abs(datum.value/0.4 - round(datum.value/0.4)) < 0.01 ? datum.label : ''", "tickSize": {"condition": {"test": "abs(datum.value/0.4 - round(datum.value/0.4)) < 0.01", "value": 5}, "value": 3}}}}},
      {"data": {"name": "pts"}, "transform": [{"filter": "datum.p === 'O9'"}], "mark": {"type": "point", "shape": "M-1,0H1M0,-1V1", "size": 190, "stroke": "black", "strokeWidth": 1.6, "filled": false, "opacity": 1, "clip": true},
       "encoding": {"x": {"field": "x", "type": "quantitative", "scale": {"domain": [0, 200], "nice": false, "zero": false}, "axis": {"title": "Distance (dm)", "tickCount": 20, "labelExpr": "datum.value % 20 === 0 ? datum.label : ''", "tickSize": {"condition": {"test": "datum.value % 20 === 0", "value": 5}, "value": 3}}},
                    "y": {"field": "y", "type": "quantitative", "scale": {"domain": [0, 1.6], "nice": false}, "axis": {"title": "%", "tickCount": 32, "format": ".1f", "labelExpr": "abs(datum.value/0.4 - round(datum.value/0.4)) < 0.01 ? datum.label : ''", "tickSize": {"condition": {"test": "abs(datum.value/0.4 - round(datum.value/0.4)) < 0.01", "value": 5}, "value": 3}}}}},
      {"data": {"name": "titles"}, "transform": [{"filter": "datum.p === 'O9'"}], "mark": {"type": "text", "font": "Liberation Serif", "fontWeight": "bold", "fontSize": 24, "align": "left", "baseline": "alphabetic", "color": "black"},
       "encoding": {"x": {"datum": 121.5, "type": "quantitative"}, "y": {"datum": 1.25, "type": "quantitative"}, "text": {"field": "t"}}}
    ]}
  ],
  "config": {
    "view": {"stroke": "black", "strokeWidth": 1.5},
    "axis": {
      "grid": false,
      "domainColor": "black", "domainWidth": 1.5,
      "tickColor": "black", "tickWidth": 1,
      "labelFont": "DejaVu Sans", "labelFontSize": 14, "labelColor": "#333333", "labelPadding": 8,
      "labelOverlap": false, "labelFlush": false,
      "titleFont": "DejaVu Sans", "titleFontSize": 13, "titleFontWeight": "normal", "titleColor": "#333333"
    },
    "axisY": {"titlePadding": 8},
    "axisX": {"titlePadding": 18}
  }
}
